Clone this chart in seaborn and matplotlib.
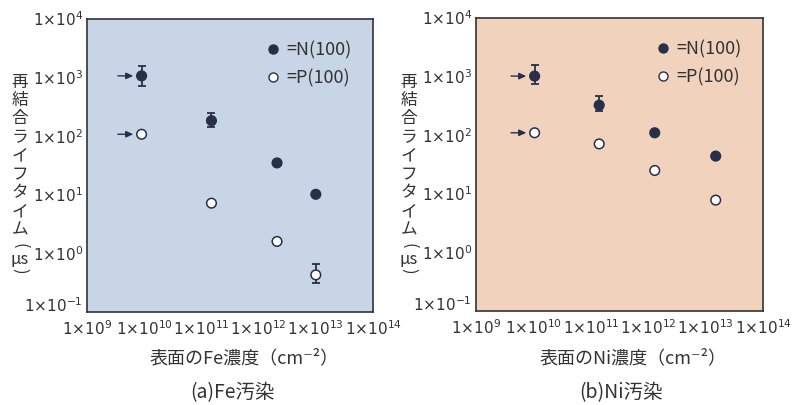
import matplotlib
matplotlib.use("Agg")
import matplotlib.pyplot as plt
from matplotlib.lines import Line2D
from matplotlib.ticker import FixedLocator, FixedFormatter, NullLocator
import numpy as np
import pandas as pd
import seaborn as sns

sns.set_theme(style="white")
plt.rcParams["font.family"] = ["Noto Sans CJK JP", "DejaVu Sans"]
plt.rcParams["mathtext.fontset"] = "dejavusans"

# ---- data: surface concentration (cm^-2) vs. recombination lifetime (us) ----
fe_conc = [9e9, 1.5e11, 2.1e12, 1.0e13]
fe_n_tau = [1.07e3, 184, 35, 10.2]
fe_p_tau = [108, 7.2, 1.6, 0.43]
fe_n_err_lo = [7.2e2, 145, None, None]
fe_n_err_hi = [1.55e3, 245, None, None]
fe_p_err_lo = [None, None, None, 0.31]
fe_p_err_hi = [None, None, None, 0.65]

ni_conc = [1.05e10, 1.4e11, 1.3e12, 1.5e13]
ni_n_tau = [1.02e3, 325, 110, 44]
ni_p_tau = [110, 71, 25, 7.8]
ni_n_err_lo = [7.4e2, 263, None, None]
ni_n_err_hi = [1.58e3, 465, None, None]
ni_p_err_lo = [None, None, None, None]
ni_p_err_hi = [None, None, None, None]

x_decades = [9, 10, 11, 12, 13, 14]
y_decades = [-1, 0, 1, 2, 3, 4]
legend_labels = ["=N(100)", "=P(100)"]
xlabels = ["表面のFe濃度（cm⁻²）", "表面のNi濃度（cm⁻²）"]
captions = ["(a)Fe汚染", "(b)Ni汚染"]
ylabel_chars = list("再結合ライフタイム") + ["(", "μs", ")"]

DARK = "#283049"
INK = "#333333"
face_colors = ["#c8d5e7", "#f1d2bd"]

W, H = 811, 405
fig = plt.figure(figsize=(W / 100, H / 100), dpi=100)
fig.patch.set_facecolor("white")

# axes boxes in pixels: left, top, right, bottom
boxes = [(87, 19, 373, 312), (476, 18, 763, 311)]
ylabel_x = [20, 409]
ylabel_y = [82, 100.5, 119, 137.5, 156, 174.5, 193, 211.5, 230, 246, 259.5, 271]


def make_df(conc, n_tau, p_tau):
    rows = []
    for c, t in zip(conc, n_tau):
        rows.append({"conc": c, "tau": t, "type": "N"})
    for c, t in zip(conc, p_tau):
        rows.append({"conc": c, "tau": t, "type": "P"})
    return pd.DataFrame(rows)


def draw_err(ax, conc, tau, lo, hi):
    for c, t, l, h in zip(conc, tau, lo, hi):
        if l is None:
            continue
        ax.errorbar([c], [t], yerr=[[t - l], [h - t]], fmt="none",
                    ecolor=DARK, elinewidth=1.3, capsize=3.0, capthick=1.3,
                    zorder=2)


panels = [
    (fe_conc, fe_n_tau, fe_p_tau, fe_n_err_lo, fe_n_err_hi, fe_p_err_lo, fe_p_err_hi),
    (ni_conc, ni_n_tau, ni_p_tau, ni_n_err_lo, ni_n_err_hi, ni_p_err_lo, ni_p_err_hi),
]

for i, (conc, n_tau, p_tau, nlo, nhi, plo, phi) in enumerate(panels):
    l, t, r, b = boxes[i]
    ax = fig.add_axes([l / W, 1 - b / H, (r - l) / W, (b - t) / H])
    ax.set_facecolor(face_colors[i])

    df = make_df(conc, n_tau, p_tau)
    draw_err(ax, conc, n_tau, nlo, nhi)
    draw_err(ax, conc, p_tau, plo, phi)
    sns.scatterplot(data=df, x="conc", y="tau", hue="type",
                    palette={"N": DARK, "P": "white"}, edgecolor=DARK,
                    linewidth=1.1, s=48, legend=False, ax=ax, zorder=3)

    ax.set_xscale("log")
    ax.set_yscale("log")
    ax.set_xlim(10.0 ** x_decades[0], 10.0 ** x_decades[-1])
    ax.set_ylim(10.0 ** y_decades[0], 10.0 ** y_decades[-1])

    ax.xaxis.set_major_locator(FixedLocator([10.0 ** d for d in x_decades]))
    ax.xaxis.set_major_formatter(FixedFormatter([r"$1{\times}10^{%d}$" % d for d in x_decades]))
    ax.yaxis.set_major_locator(FixedLocator([10.0 ** d for d in y_decades]))
    ax.yaxis.set_major_formatter(FixedFormatter([r"$1{\times}10^{%d}$" % d for d in y_decades]))
    ax.xaxis.set_minor_locator(NullLocator())
    ax.yaxis.set_minor_locator(NullLocator())
    ax.tick_params(axis="x", direction="in", length=5, width=1.1, color=INK,
                   labelsize=11, labelcolor=INK, pad=6)
    ax.tick_params(axis="y", direction="in", length=5, width=1.1, color=INK,
                   labelsize=11, labelcolor=INK, pad=3)
    # lift the lowest y label clear of the x labels
    ax.yaxis.get_major_ticks()[0].label1.set_verticalalignment("baseline")
    ax.set_xlabel("")
    ax.set_ylabel("")
    for sp in ax.spines.values():
        sp.set_color(INK)
        sp.set_linewidth(1.2)

    # arrows pointing to the reference (clean wafer) values
    for yv in (n_tau[0], p_tau[0]):
        ax.annotate("", xy=(conc[0], yv), xytext=(-17, 0),
                    textcoords="offset points", xycoords="data",
                    arrowprops=dict(arrowstyle="-|>,head_length=0.35,head_width=0.16",
                                    color=DARK, lw=1.0, shrinkA=0, shrinkB=6))

    handles = [
        Line2D([], [], ls="none", marker="o", markersize=6.5,
               markerfacecolor=DARK, markeredgecolor=DARK, markeredgewidth=1.0),
        Line2D([], [], ls="none", marker="o", markersize=6.5,
               markerfacecolor="white", markeredgecolor=DARK, markeredgewidth=1.0),
    ]
    ax.legend(handles, legend_labels, loc="upper left",
              bbox_to_anchor=(0.6, 0.95), frameon=False, fontsize=13,
              handlelength=0.8, handletextpad=0.35, labelspacing=0.55,
              labelcolor=INK, borderaxespad=0)

    cx = (l + r) / 2
    fig.text((cx + 14) / W, 1 - 358 / H, xlabels[i], ha="center", va="center",
             fontsize=13, color=INK)
    fig.text((cx + 2) / W, 1 - 393 / H, captions[i], ha="center", va="center",
             fontsize=14, color=INK)

    # vertical (tategaki) y-axis label; brackets turned for vertical setting
    for ch, yy in zip(ylabel_chars, ylabel_y):
        rot = -90 if ch in "()" else 0
        fig.text(ylabel_x[i] / W, 1 - yy / H, ch, ha="center", va="center",
                 fontsize=12, color=INK, rotation=rot)

fig.savefig("out.png", dpi=100)
